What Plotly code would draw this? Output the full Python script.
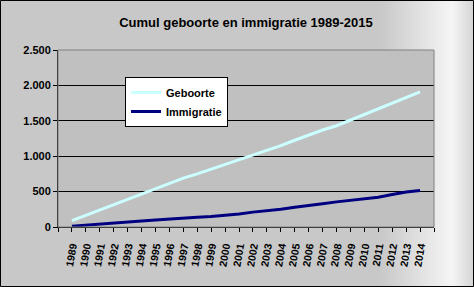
import plotly.graph_objects as go

years = list(range(1989, 2015))
year_labels = [str(y) for y in years]
geboorte = [90, 165, 240, 315, 385, 455, 530, 610, 690, 750, 815, 880, 950,
            1020, 1085, 1150, 1225, 1300, 1370, 1430, 1510, 1600, 1680, 1760, 1840, 1910]
immigratie = [12, 28, 45, 60, 72, 85, 98, 108, 122, 138, 150, 165, 185,
              210, 226, 250, 280, 300, 330, 355, 375, 395, 420, 460, 495, 515]

W, H = 474, 287
L, R, T, B = 58, 40, 50, 60
pw, ph = W - L - R, H - T - B

def px(x):
    return (x - L) / pw

def py(y):
    return (H - B - y) / ph

def bg_level(x):
    if x < 380:
        return 200
    if x < 452:
        return 200 + (x - 380) / 72 * 45
    return 245 - (x - 452) / 20 * 30

shapes = []
step = 2
for x in range(0, W, step):
    v = int(round(bg_level(x + step / 2)))
    c = f"rgb({v},{v},{v})"
    shapes.append(dict(type="rect", xref="paper", yref="paper",
                       x0=px(x), x1=px(x + step), y0=py(H), y1=py(0),
                       fillcolor=c, line=dict(width=0), layer="below"))
# plot area
shapes.append(dict(type="rect", xref="paper", yref="paper", x0=0, x1=1, y0=0, y1=1,
                   fillcolor="#c0c0c0", line=dict(width=0), layer="below"))
shapes.append(dict(type="rect", xref="paper", yref="paper", x0=0, x1=1, y0=0, y1=1,
                   fillcolor="rgba(0,0,0,0)", line=dict(color="#808080", width=1), layer="above"))
# outer border
shapes.append(dict(type="rect", xref="paper", yref="paper",
                   x0=px(0.5), x1=px(W - 0.5), y0=py(H - 0.5), y1=py(0.5),
                   fillcolor="rgba(0,0,0,0)", line=dict(color="black", width=1), layer="above"))

fig = go.Figure()
fig.add_trace(go.Scatter(x=years, y=geboorte, mode="lines", name="Geboorte",
                         line=dict(color="#ccffff", width=3)))
fig.add_trace(go.Scatter(x=years, y=immigratie, mode="lines", name="Immigratie",
                         line=dict(color="#000080", width=3)))

tickvals = [years[0] - 1] + years + [years[-1] + 1]
ticktext = [""] + year_labels + [""]

fig.update_layout(
    width=W, height=H,
    margin=dict(l=L, r=R, t=T, b=B),
    paper_bgcolor="#c8c8c8",
    plot_bgcolor="#c0c0c0",
    separators=",.",
    font=dict(family="Liberation Sans, Arial, sans-serif", color="black", size=11),
    title=dict(text="Cumul geboorte en immigratie 1989-2015", x=0.5, xref="paper",
               xanchor="center", y=1 - 22 / H, yanchor="middle",
               font=dict(size=13, weight="bold", color="black")),
    showlegend=True,
    legend=dict(x=px(125), y=py(77), xanchor="left", yanchor="top",
                bgcolor="white", bordercolor="black", borderwidth=1,
                font=dict(size=11, weight="bold", color="black"),
                itemwidth=30, tracegroupgap=0),
    xaxis=dict(range=[years[0] - 1, years[-1] + 1], tickmode="array",
               tickvals=tickvals, ticktext=ticktext, tickangle=-80,
               ticks="outside", ticklen=4, tickcolor="black", showgrid=False,
               showline=True, linecolor="black", linewidth=1, zeroline=False,
               ticklabelstandoff=4,
               tickfont=dict(size=10.5, weight="bold")),
    yaxis=dict(range=[0, 2500], dtick=500, tickformat=",d", ticks="outside",
               ticklen=4, tickcolor="black", showgrid=True, gridcolor="black",
               gridwidth=1, showline=True, linecolor="black", linewidth=1,
               zeroline=False, tickfont=dict(size=11, weight="bold")),
    shapes=shapes,
)

fig.write_html("out.html")
